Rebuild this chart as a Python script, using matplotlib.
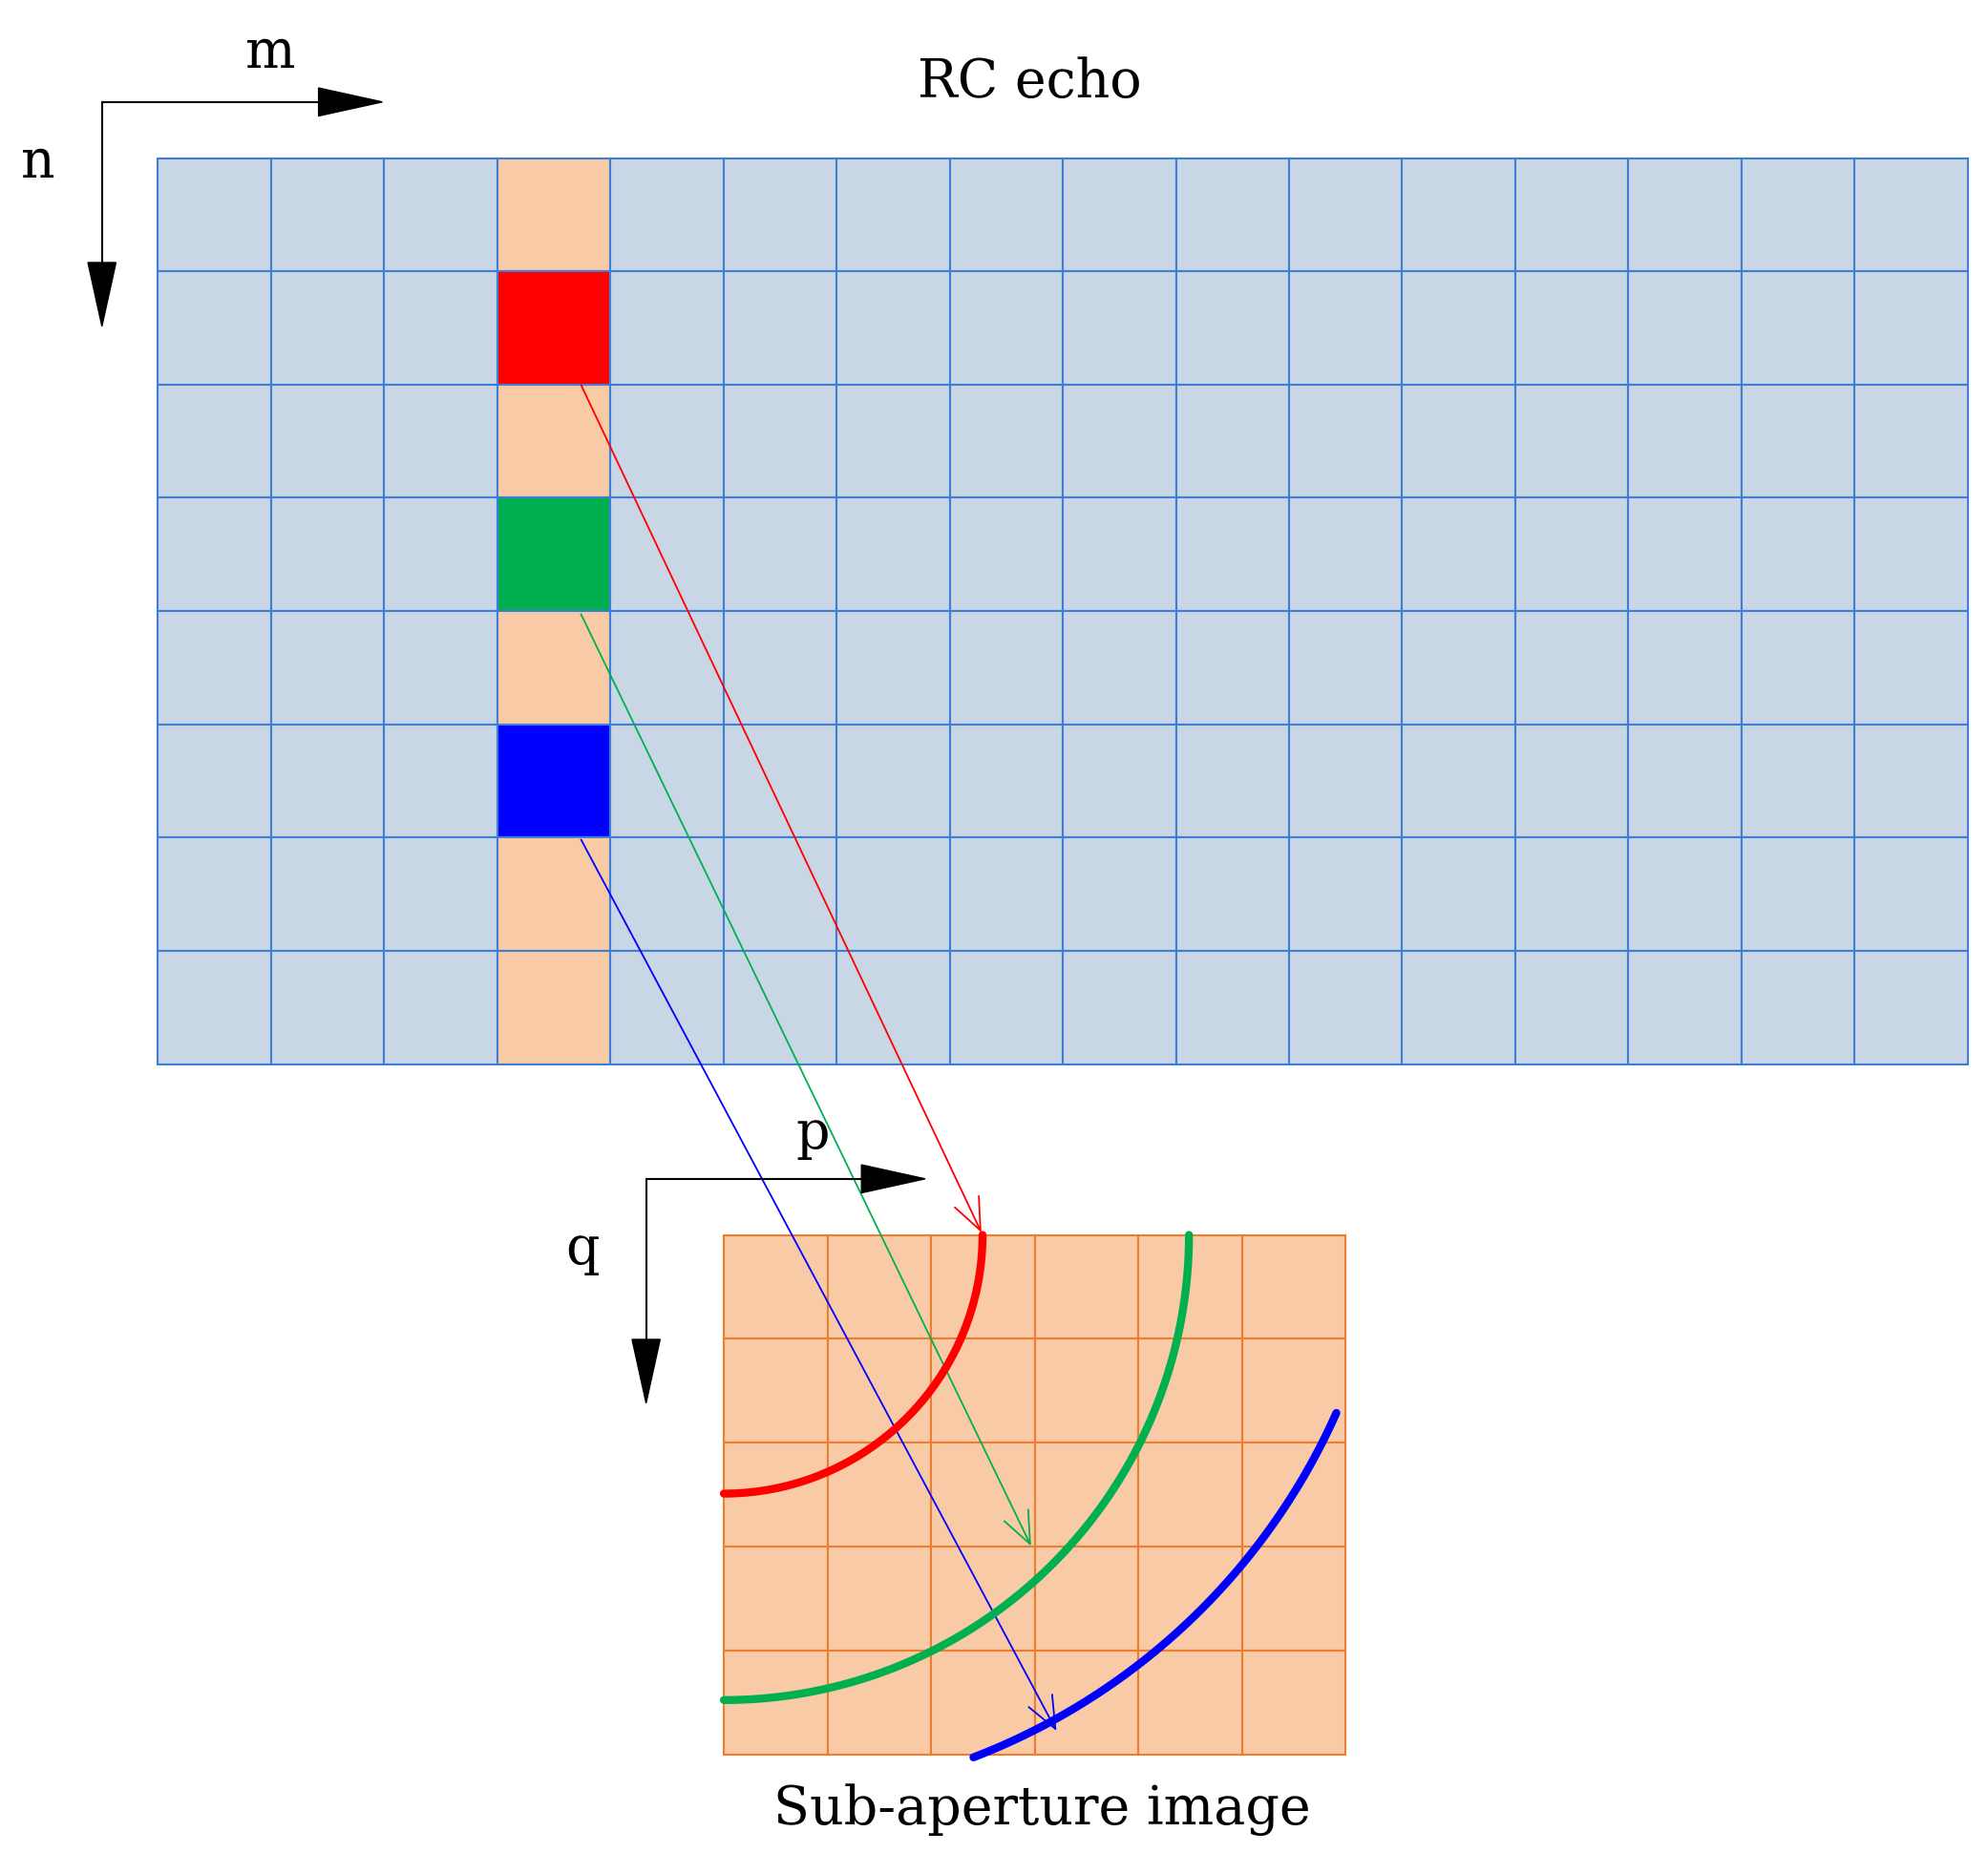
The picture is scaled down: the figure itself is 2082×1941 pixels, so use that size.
import numpy as np
import matplotlib.pyplot as plt
from matplotlib.patches import Rectangle, Arc, FancyArrowPatch, Polygon

# layout in reference pixel units (display scale), y grows downward
W, H = 1560, 1454

# top grid (RC echo)
n_cols, n_rows = 16, 8
top_x0, top_x1, top_y0, top_y1 = 124, 1544, 124, 835
hl_col = 3
colored_rows = [1, 3, 5]
colored = ['#ff0000', '#00b050', '#0000ff']

# bottom grid (sub-aperture image)
b_cols, b_rows = 6, 5
bot_x0, bot_x1, bot_y0, bot_y1 = 568, 1056, 969, 1377

# arcs: center, radius, angles (deg, y-down)
arcs = [((568, 969), 203, 0, 90, '#ff0000'),
        ((568, 969), 365, 0, 90, '#00b050'),
        ((580, 900), 513, 24, 69, '#0000ff')]

# mapping arrows: start, end
links = [((455, 300), (771, 969), '#ff0000'),
         ((455, 480), (810, 1215), '#00b050'),
         ((455, 657), (830, 1360), '#0000ff')]

fig = plt.figure(figsize=(20.82, 19.41), dpi=100)
ax = fig.add_axes([0, 0, 1, 1])
ax.set_xlim(0, W)
ax.set_ylim(H, 0)
ax.axis('off')

cw = (top_x1 - top_x0) / n_cols
ch = (top_y1 - top_y0) / n_rows
for i in range(n_cols):
    for j in range(n_rows):
        fc = '#f8cba6' if i == hl_col else '#c9d6e5'
        if i == hl_col and j in colored_rows:
            fc = colored[colored_rows.index(j)]
        ax.add_patch(Rectangle((top_x0 + i * cw, top_y0 + j * ch), cw, ch,
                               fc=fc, ec='#3d7fd6', lw=1.5))

bw = (bot_x1 - bot_x0) / b_cols
bh = (bot_y1 - bot_y0) / b_rows
for i in range(b_cols):
    for j in range(b_rows):
        ax.add_patch(Rectangle((bot_x0 + i * bw, bot_y0 + j * bh), bw, bh,
                               fc='#f8cba6', ec='#ed7d31', lw=1.5))

for (cx, cy), r, a0, a1, c in arcs:
    t = np.radians(np.linspace(a0, a1, 100))
    ax.plot(cx + r * np.cos(t), cy + r * np.sin(t), color=c, lw=6,
            solid_capstyle='round')

for s, e, c in links:
    ax.add_patch(FancyArrowPatch(s, e, arrowstyle='->,head_length=12,head_width=5',
                                 color=c, lw=1.3, mutation_scale=2))


def axes_arrows(x0, y0, xr, yb, hl=50, hw=22):
    ax.plot([x0, xr - hl], [y0, y0], color='k', lw=1.5)
    ax.plot([x0, x0], [y0, yb - hl], color='k', lw=1.5)
    ax.add_patch(Polygon([[xr - hl, y0 - hw / 2], [xr, y0], [xr - hl, y0 + hw / 2]], color='k'))
    ax.add_patch(Polygon([[x0 - hw / 2, yb - hl], [x0, yb], [x0 + hw / 2, yb - hl]], color='k'))


axes_arrows(80, 80, 300, 256)
axes_arrows(507, 925, 726, 1101)

fkw = dict(family='DejaVu Serif', fontsize=40, ha='center', va='center')
ax.text(212, 42, 'm', **fkw)
ax.text(30, 128, 'n', **fkw)
ax.text(638, 890, 'p', **fkw)
ax.text(457, 980, 'q', **fkw)
ax.text(808, 65, 'RC echo', **fkw)
ax.text(818, 1420, 'Sub-aperture image', **fkw)

fig.savefig('out.png', dpi=100)
